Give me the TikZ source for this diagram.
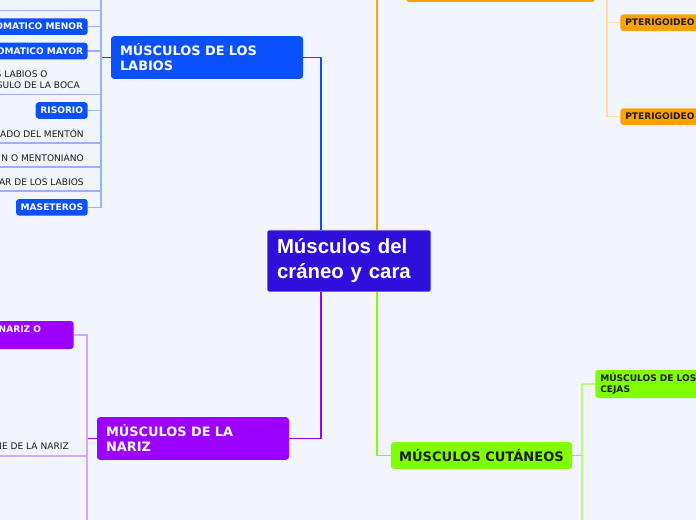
\documentclass[tikz,border=0pt]{standalone}
\usepackage{fontspec}
\setmainfont{DejaVu Sans}
\newfontfamily\rootfont{Liberation Sans}
\usepackage{tikz}
\usepackage{xcolor}
\usetikzlibrary{positioning}
\definecolor{paper}     {HTML}{F2F5FE}
\definecolor{ink}       {HTML}{1A1A1A}
\definecolor{rootblue}  {HTML}{2F0FDC}
\definecolor{labblue}   {HTML}{0A50FF}
\definecolor{labpale}   {HTML}{94B4FF}
\definecolor{nosepurple}{HTML}{9C00FF}
\definecolor{nosepale}  {HTML}{D7A8FF}
\definecolor{cutgreen}  {HTML}{80FF00}
\definecolor{cutpale}   {HTML}{B8FF78}
\definecolor{jaworange} {HTML}{FFA200}
\definecolor{jawpale}   {HTML}{FFD9A6}
\tikzset{
  rootbox/.style   ={fill=rootblue, draw=white, line width=0.5pt, rounded corners=1.5pt,
                     text=white, font=\rootfont\bfseries\fontsize{15.3}{18.75}\selectfont,
                     align=left, text width=108pt, inner xsep=7.5pt, minimum height=46.5pt},
  branchbox/.style ={rounded corners=2.25pt, text=white,
                     font=\bfseries\fontsize{9.7}{11.25}\selectfont,
                     align=left, text width=130.5pt, inner xsep=6.75pt, minimum height=32pt},
  cutbox/.style    ={fill=cutgreen, rounded corners=2.25pt, text=ink,
                     font=\bfseries\fontsize{9.8}{12}\selectfont,
                     minimum width=136pt, minimum height=20pt, inner sep=0pt},
  leafbox/.style   ={rounded corners=2.25pt, font=\bfseries\fontsize{6.8}{8.25}\selectfont,
                     inner xsep=3.5pt, inner ysep=1pt, minimum height=12.4pt},
  leaftext/.style  ={text=ink, font=\fontsize{6.8}{8.4}\selectfont, align=left,
                     inner xsep=0pt, inner ysep=3.75pt, anchor=south east},
  mainline/.style  ={line width=1.1pt},
  subline/.style   ={line width=0.8pt},
}

\begin{document}
\begin{tikzpicture}[x=0.75pt,y=-0.75pt]
  \useasboundingbox (0,0) rectangle (696,520);
  \fill[paper] (0,0) rectangle (696,520);
  \clip (0,0) rectangle (696,520);

  \coordinate (ledge) at (0,0);

  % centre and first level
  \node[rootbox] (root) at (349,261) {Músculos del\\cráneo y cara};
  \node[branchbox,fill=labblue] (labios) at (207,57.5) {MÚSCULOS DE LOS\\LABIOS};
  \node[branchbox,fill=nosepurple] (nariz) at (193,438.5) {MÚSCULOS DE LA\\NARIZ};
  \node[cutbox] (cutaneos) at (481.5,455.5) {MÚSCULOS CUTÁNEOS};
  \node[fill=jaworange,rounded corners=2.25pt,minimum width=141.75pt,minimum height=33pt] (masticadores) at (500.5,-20) {};

  \draw[mainline,labblue]    ([xshift=-21pt]root.north) |- (labios.east);
  \draw[mainline,jaworange]  ([xshift=21pt]root.north)  |- (masticadores.west);
  \draw[mainline,nosepurple] ([xshift=-21pt]root.south) |- (nariz.east);
  \draw[mainline,cutgreen]   ([xshift=21pt]root.south)  |- (cutaneos.west);

  % labios
  \node[leafbox,fill=labblue,text=white,anchor=east] (menor)     at (88,26.7)  {OMATICO MENOR};
  \node[leafbox,fill=labblue,text=white,anchor=east] (mayor)     at (88,51)    {OMATICO MAYOR};
  \node[leafbox,fill=labblue,text=white,anchor=east] (risorio)   at (88,110.5) {RISORIO};
  \node[leafbox,fill=labblue,text=white,anchor=east] (maseteros) at (88,207.3) {MASETEROS};
  \node[leaftext] (boca)       at (80,94.3) {S LABIOS O\\GULO DE LA BOCA};
  \node[leaftext] (menton)     at (84,143)  {ADO DEL MENTÓN};
  \node[leaftext] (mentoniano) at (84,167)  {N O MENTONIANO};
  \node[leaftext] (orbicular)  at (84,191)  {AR DE LOS LABIOS};

  \coordinate (lbar) at (101,57.5);
  \coordinate (lup)  at (101,-10);
  \coordinate (ltop) at (0,10.7);
  \draw[subline,labblue] (labios.west) -- (lbar);
  \draw[subline,labpale] (lbar) -- (lup);
  \draw[subline,labpale] (lbar) |- (ltop);
  \foreach \leaf in {menor,mayor,risorio,maseteros}
    \draw[subline,labpale] (lbar) |- (\leaf.east);
  \foreach \leaf in {boca,menton,mentoniano,orbicular}
    \draw[subline,labpale] (lbar) |- (\leaf.south east) -- (\leaf.south -| ledge);

  % nariz
  \node[leafbox,fill=nosepurple,text=white,anchor=east,text width=52.5pt,align=left,
        inner xsep=3.75pt,minimum height=21pt] (nasal) at (74,335) {NARIZ O\\\phantom{A}};
  \node[leaftext,inner ysep=4.5pt] (tabique) at (69,456) {IE DE LA NARIZ};
  \coordinate (nbar)  at (87,438.5);
  \coordinate (ndown) at (87,530);
  \draw[subline,nosepurple] (nariz.west) -- (nbar);
  \draw[subline,nosepale] (nbar) |- (nasal.east);
  \draw[subline,nosepale] (nbar) -- (ndown);
  \draw[subline,nosepale] (nbar) |- (tabique.south east) -- (tabique.south -| ledge);

  % cutaneos
  \node[leafbox,fill=cutgreen,text=ink,anchor=west,text width=90pt,align=left,
        inner xsep=3.75pt,minimum height=21pt] (cejas) at (595,384) {MÚSCULOS DE LOS\\CEJAS};
  \coordinate (gbar)  at (582,455.5);
  \coordinate (gdown) at (582,530);
  \draw[subline,cutgreen] (cutaneos.east) -- (gbar);
  \draw[subline,cutpale] (gbar) |- (cejas.west);
  \draw[subline,cutpale] (gbar) -- (gdown);

  % masticadores
  \node[leafbox,fill=jaworange,text=ink,anchor=west,text width=90pt,align=left,
        inner xsep=3.75pt] (pterext) at (620,22.7)  {PTERIGOIDEO};
  \node[leafbox,fill=jaworange,text=ink,anchor=west,text width=90pt,align=left,
        inner xsep=3.75pt] (pterint) at (620,116.7) {PTERIGOIDEO};
  \coordinate (obar) at (607,-20);
  \draw[subline,jawpale] (masticadores.east) -- (obar);
  \draw[subline,jawpale] (obar) |- (pterext.west);
  \draw[subline,jawpale] (obar) |- (pterint.west);
\end{tikzpicture}
\end{document}
